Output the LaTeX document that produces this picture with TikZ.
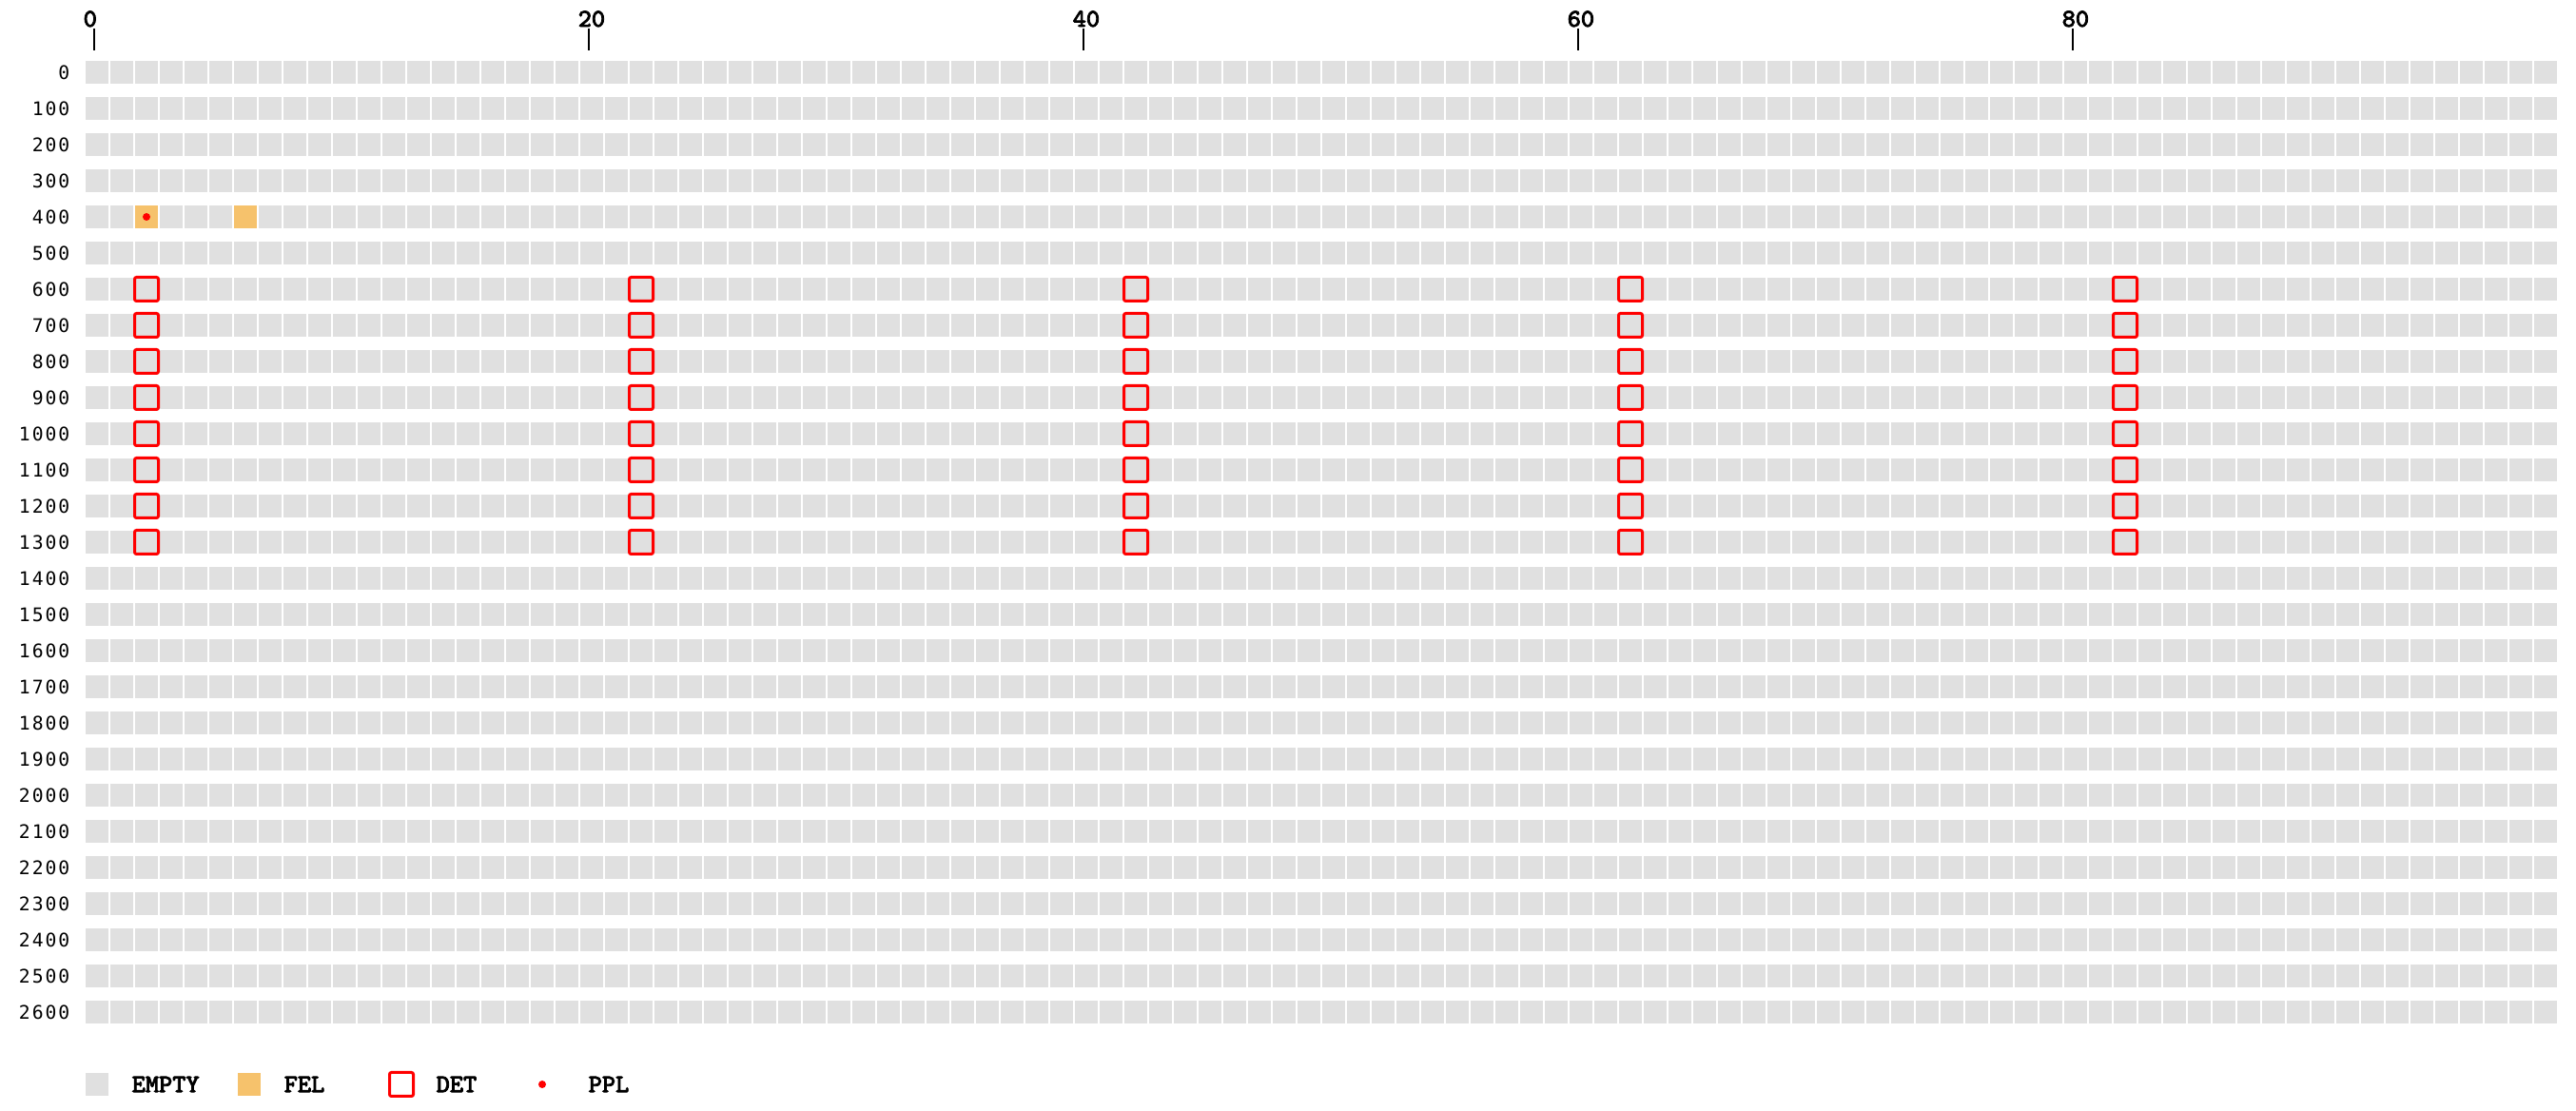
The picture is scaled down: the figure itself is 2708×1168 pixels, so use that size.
\documentclass[tikz,border=0pt]{standalone}
\usepackage{fontspec}
\newfontfamily\rowfont{DejaVu Sans Mono}[LetterSpace=10]
\newfontfamily\legfont{Latin Modern Mono}[FakeBold=3]
\usepackage{xcolor}
\definecolor{cellgray}{HTML}{E0E0E0}
\definecolor{felorange}{HTML}{F6C26C}
\definecolor{detred}{HTML}{FF0000}
\tikzset{
  cell/.style={fill=cellgray},
  felcell/.style={fill=felorange},
  detbox/.style={draw=detred, line width=0.03cm, rounded corners=0.02cm},
  ppldot/.style={fill=detred},
  rowlbl/.style={anchor=east, inner sep=0pt, font=\rowfont\fontsize{5.6}{6}\selectfont},
  collbl/.style={anchor=south west, inner sep=0pt, font=\legfont\fontsize{7.6}{8}\selectfont},
  leglbl/.style={anchor=west, inner sep=0pt, font=\legfont\fontsize{7.6}{8}\selectfont},
}

\begin{document}
\begin{tikzpicture}[x=0.01cm, y=-0.01cm]
                \useasboundingbox (0,0) rectangle (2708,1168);
                % column ticks
                \foreach \c in {0,20,40,60,80} {
                    \coordinate (tick\c) at ({99+26*\c},30);
                    \node[collbl] (col\c) at ({87+26*\c},29) {\c};
                    \draw[line width=0.02cm] (tick\c) -- ++(0,23);
                }
                % rows of cells
                \foreach \r in {0,...,26} {
                    \pgfmathtruncatemacro{\lbl}{100*\r}
                    \node[rowlbl] (row\r) at (74,{76+38*\r}) {\lbl};
                    \foreach \c in {0,...,99}
                        \fill[cell] ({90+26*\c},{64+38*\r}) rectangle ++(24,24);
                }
                
                \fill[felcell] (142,216) rectangle ++(24,24);
                \fill[felcell] (246,216) rectangle ++(24,24);
                \fill[ppldot] (154,228) circle[radius=0.04cm];
                
                \foreach \c in {2,22,42,62,82}
                    \foreach \r in {6,...,13}
                        \draw[detbox] ({89.5+26*\c},{63.5+38*\r}) rectangle ++(25,25);
                
                % legend
                \fill[cell] (90,1128) rectangle ++(24,24);
                \node[leglbl] (legempty) at (138,1140) {EMPTY};
                \fill[felcell] (250,1128) rectangle ++(24,24);
                \node[leglbl] (legfel) at (298,1140) {FEL};
                \draw[detbox] (409.5,1127.5) rectangle ++(25,25);
                \node[leglbl] (legdet) at (458,1140) {DET};
                \fill[ppldot] (570,1140) circle[radius=0.04cm];
                \node[leglbl] (legppl) at (618,1140) {PPL};
\end{tikzpicture}
\end{document}
